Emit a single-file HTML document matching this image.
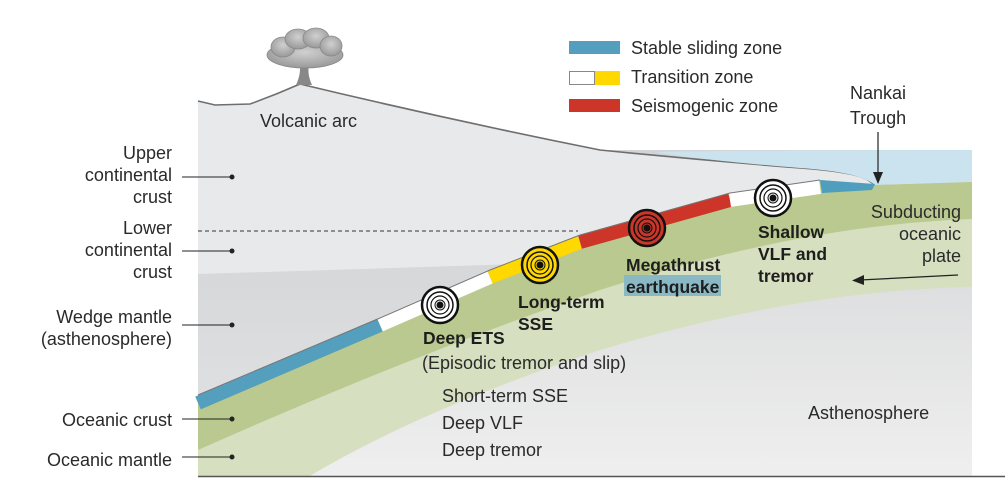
<!DOCTYPE html>
<html><head><meta charset="utf-8"><style>
body{margin:0;background:#fff;width:1005px;height:478px;overflow:hidden}
text{font-family:"Liberation Sans",sans-serif;font-size:18px;fill:#2a2a2a}
.b{font-weight:bold;fill:#1e1e1e;font-size:17.5px}
</style></head><body>
<svg width="1005" height="478" viewBox="0 0 1005 478">
<defs>
<linearGradient id="ast" x1="0" y1="0" x2="0" y2="1"><stop offset="0" stop-color="#d2d3d5"/><stop offset="1" stop-color="#efefef"/></linearGradient>
<linearGradient id="wedge" x1="0" y1="0" x2="0" y2="1"><stop offset="0" stop-color="#d6d7d9"/><stop offset="1" stop-color="#dedfe0"/></linearGradient>
<radialGradient id="cl" cx="0.5" cy="0.4" r="0.6"><stop offset="0" stop-color="#d0d0d0"/><stop offset="1" stop-color="#999"/></radialGradient>
</defs>
<rect x="198" y="150" width="774" height="327" fill="url(#ast)"/>
<path d="M198,272 Q400,268 578,262 L440,300 L198,395 Z" fill="url(#wedge)"/>
<path d="M198,101 L215,105 L250,104 Q275,95 300,84 Q450,120 600,150 Q700,160 800,168 Q855,172 868,180 L875,185 L820,180 L730,193 L580,235 L490,270 L440,292 L380,318 Q450,290 578,262 Q400,268 198,274 Z" fill="#e8e9ea"/>
<path d="M198,101 L215,105 L250,104 Q275,95 300,84 Q450,120 600,150 Q700,160 800,168 Q855,172 868,180 L875,185" fill="none" stroke="#6e6e6e" stroke-width="1.6"/>
<path d="M655,152 Q760,150 972,150 L972,182 L875,185 Q860,172 800,168 Q700,160 655,152 Z" fill="#cae3ef"/>
<path d="M198,395 L380,318 L490,270 L580,235 L730,193 L820,180 L875,185 L972,182 L972,287 Q800,290 600,350 Q420,410 308,477 L198,477 Z" fill="#d6dfbf"/>
<path d="M198,395 L380,318 L490,270 L580,235 L730,193 L820,180 L875,185 L972,182 L972,219 Q800,225 600,290 Q400,360 198,450 Z" fill="#b9c98f"/>
<g stroke-width="14" fill="none" stroke-linecap="butt">
<path d="M198,403 L380,325" stroke="#539fbd"/>
<path d="M380,325 L490,277" stroke="#ffffff"/>
<path d="M490,277 L580,242" stroke="#ffd800"/>
<path d="M580,242 L730,200" stroke="#cc3528"/>
<path d="M730,200 L820,187" stroke="#ffffff"/>
</g>
<path d="M820,180 L875,184 L872,190 L822,193 Z" fill="#4f9ebd"/>
<path d="M198,395 L380,318 L490,270 L580,235 L730,193 L820,180" fill="none" stroke="#777" stroke-width="1"/>
<line x1="198" y1="231" x2="578" y2="231" stroke="#333" stroke-dasharray="4,3" stroke-width="1"/>
<line x1="198" y1="476.5" x2="1005" y2="476.5" stroke="#555" stroke-width="1.5"/>
<path d="M296,85 Q302,72 299,62 L310,62 Q306,72 312,85 Z" fill="#888"/>
<g fill="url(#cl)" stroke="#888" stroke-width="0.8">
<ellipse cx="305" cy="55" rx="38" ry="13"/>
<ellipse cx="283" cy="47" rx="12" ry="10"/><ellipse cx="298" cy="39" rx="13" ry="10"/><ellipse cx="316" cy="38" rx="13" ry="10"/><ellipse cx="331" cy="46" rx="11" ry="10"/>
</g>
<rect x="569" y="41" width="51" height="13" fill="#539fbd"/>
<rect x="569.5" y="71.5" width="25" height="13" fill="#fff" stroke="#888"/>
<rect x="595" y="71" width="25" height="14" fill="#ffd800"/>
<rect x="569" y="99" width="51" height="13" fill="#cc3528"/>
<text x="631" y="54">Stable sliding zone</text>
<text x="631" y="83">Transition zone</text>
<text x="631" y="112">Seismogenic zone</text>
<g text-anchor="end">
<text x="172" y="159">Upper</text><text x="172" y="181">continental</text><text x="172" y="203">crust</text>
<text x="172" y="234">Lower</text><text x="172" y="256">continental</text><text x="172" y="278">crust</text>
<text x="172" y="323">Wedge mantle</text><text x="172" y="345">(asthenosphere)</text>
<text x="172" y="426">Oceanic crust</text>
<text x="172" y="466">Oceanic mantle</text>
</g>
<g stroke="#222" stroke-width="1"><line x1="182" y1="177" x2="232" y2="177"/><line x1="182" y1="251" x2="232" y2="251"/><line x1="182" y1="325" x2="232" y2="325"/><line x1="182" y1="419" x2="232" y2="419"/><line x1="182" y1="457" x2="232" y2="457"/></g>
<g fill="#222"><circle cx="232" cy="177" r="2.5"/><circle cx="232" cy="251" r="2.5"/><circle cx="232" cy="325" r="2.5"/><circle cx="232" cy="419" r="2.5"/><circle cx="232" cy="457" r="2.5"/></g>
<g fill="none" stroke="#111">
<g transform="translate(440,305)"><circle r="18" stroke-width="2.5" fill="#fff"/><circle r="13" stroke-width="1.5"/><circle r="9" stroke-width="1.2"/><circle r="5" stroke-width="1"/><circle r="3" fill="#111"/></g>
<g transform="translate(540,265)"><circle r="18" stroke-width="2.5" fill="#ffd800"/><circle r="13" stroke-width="1.5"/><circle r="9" stroke-width="1.2"/><circle r="5" stroke-width="1"/><circle r="3" fill="#111"/></g>
<g transform="translate(647,228)"><circle r="18" stroke-width="2.5" fill="#cc3528"/><circle r="13" stroke-width="1.5"/><circle r="9" stroke-width="1.2"/><circle r="5" stroke-width="1"/><circle r="3" fill="#111"/></g>
<g transform="translate(773,198)"><circle r="18" stroke-width="2.5" fill="#fff"/><circle r="13" stroke-width="1.5"/><circle r="9" stroke-width="1.2"/><circle r="5" stroke-width="1"/><circle r="3" fill="#111"/></g>
</g>
<text x="260" y="127">Volcanic arc</text>
<text x="878" y="99" text-anchor="middle">Nankai</text><text x="878" y="124" text-anchor="middle">Trough</text>
<line x1="878" y1="132" x2="878" y2="176" stroke="#222" stroke-width="1.2"/><path d="M873,172 L878,184 L883,172 Z" fill="#222"/>
<text class="b" x="423" y="344">Deep ETS</text>
<text x="422" y="369">(Episodic tremor and slip)</text>
<text x="442" y="402">Short-term SSE</text>
<text x="442" y="429">Deep VLF</text>
<text x="442" y="456">Deep tremor</text>
<text class="b" x="518" y="308">Long-term</text><text class="b" x="518" y="330">SSE</text>
<text class="b" x="626" y="271">Megathrust</text>
<rect x="624" y="275" width="97" height="21" fill="#8ab8c4"/>
<text class="b" x="626" y="293">earthquake</text>
<text class="b" x="758" y="238">Shallow</text><text class="b" x="758" y="260">VLF and</text><text class="b" x="758" y="282">tremor</text>
<g text-anchor="end"><text x="961" y="218">Subducting</text><text x="961" y="240">oceanic</text><text x="961" y="262">plate</text></g>
<line x1="958" y1="275" x2="860" y2="280" stroke="#222" stroke-width="1.2"/><path d="M864,275 L852,280.5 L864,285 Z" fill="#222"/>
<text x="808" y="419">Asthenosphere</text>
</svg>
</body></html>
